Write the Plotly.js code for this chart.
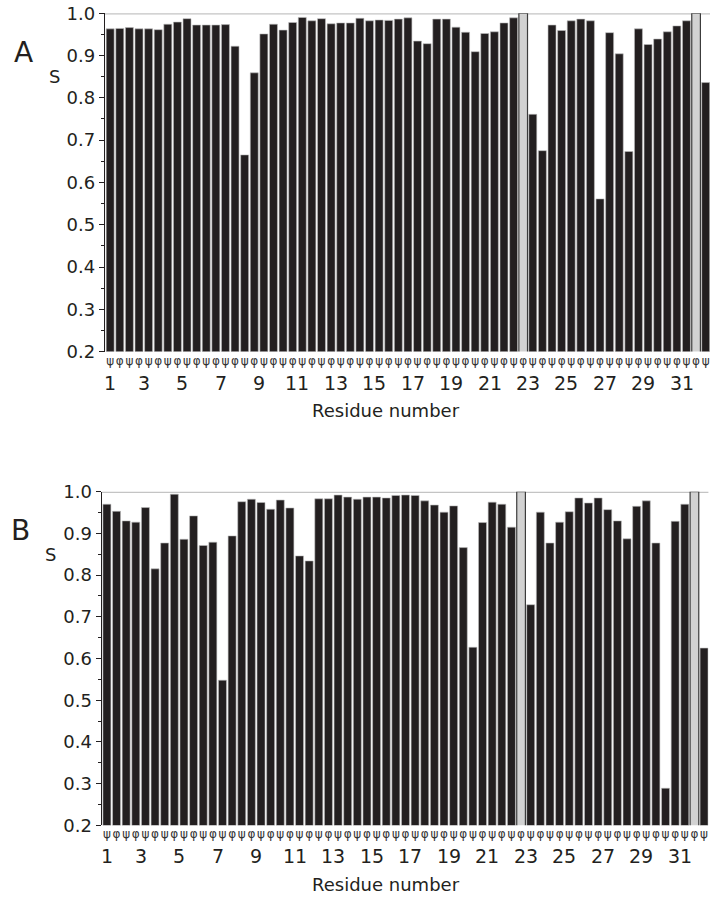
<!DOCTYPE html>
<html>
<head>
<meta charset="utf-8">
<script src="https://cdn.plot.ly/plotly-3.0.1.min.js"></script>
<style>html,body{margin:0;padding:0;background:#fff;}#chart{width:710px;height:897px;}</style>
</head>
<body>
<div id="chart"></div>
<script>
// ---- data ----
const residues = [1,2,3,4,5,6,7,8,9,10,11,12,13,14,15,16,17,18,19,20,21,22,23,24,25,26,27,28,29,30,31,32];
const anglesFirst = ['ψ'];           // residue 1 has only psi
const anglesOther = ['φ','ψ'];       // other residues: phi, psi
const prolineResidues = [23, 32];    // phi not defined -> grey bar
const residueTickLabels = [1,3,5,7,9,11,13,15,17,19,21,23,25,27,29,31];
const yTickVals = [0.2,0.3,0.4,0.5,0.6,0.7,0.8,0.9,1.0];

// S order parameters, one per bar (psi1, phi2, psi2, ... phi32, psi32); null = proline phi
const sA = [0.963,0.964,0.966,0.963,0.963,0.961,0.974,0.979,0.987,0.972,
            0.972,0.972,0.973,0.922,0.665,0.859,0.951,0.974,0.960,0.978,
            0.990,0.982,0.987,0.975,0.977,0.977,0.988,0.982,0.984,0.983,
            0.986,0.989,0.934,0.928,0.986,0.986,0.967,0.955,0.909,0.952,
            0.956,0.977,0.989,null,0.761,0.675,0.972,0.959,0.982,0.986,
            0.982,0.561,0.954,0.904,0.673,0.963,0.926,0.939,0.956,0.970,
            0.982,null,0.836];
const sB = [0.970,0.953,0.930,0.927,0.962,0.815,0.877,0.994,0.886,0.942,
            0.871,0.879,0.548,0.894,0.976,0.982,0.974,0.958,0.980,0.961,
            0.846,0.834,0.983,0.983,0.992,0.987,0.982,0.987,0.987,0.985,
            0.991,0.992,0.991,0.978,0.968,0.951,0.966,0.866,0.627,0.926,
            0.975,0.970,0.915,null,0.729,0.951,0.877,0.927,0.952,0.985,
            0.973,0.985,0.957,0.930,0.887,0.965,0.978,0.877,0.289,0.929,
            0.970,null,0.625];
const prolineMarkerValue = 1.0;

// ---- build bar list ----
const barLabels = [], barRes = [];
residues.forEach((r, i) => {
  (i === 0 ? anglesFirst : anglesOther).forEach(a => { barLabels.push(a); barRes.push(r); });
});
const barIdx = barLabels.map((_, i) => i);
const proIdx = prolineResidues.map(r => barRes.findIndex((rr, i) => rr === r && barLabels[i] === 'φ'));
const resPos = r => { const ids = barIdx.filter(i => barRes[i] === r); return ids.reduce((a,b)=>a+b,0)/ids.length; };

const ink = '#231f20';
const FONT = 'DejaVu Sans, Arial, sans-serif';
const H = 897;
const panels = [
  {name:'A', s:sA, xa:'x',  ya:'y',  xd:[105/710, 1.0],          yTop:13.2,  yBot:351.6},
  {name:'B', s:sB, xa:'x2', ya:'y2', xd:[101.7/710, 708.4/710],   yTop:491.7, yBot:825.3}
];

const traces = [], annotations = [], shapes = [];
const layout = {
  width:710, height:897, margin:{l:0,r:0,t:0,b:0},
  paper_bgcolor:'#fff', plot_bgcolor:'#fff', showlegend:false,
  bargap:0.17, barmode:'overlay',
  font:{family:FONT, color:ink}
};

panels.forEach((p, k) => {
  const xKey = k === 0 ? 'xaxis' : 'xaxis2';
  const yKey = k === 0 ? 'yaxis' : 'yaxis2';
  const yd = [1 - p.yBot/H, 1 - p.yTop/H];
  traces.push({type:'bar', x:barIdx, y:p.s, xaxis:p.xa, yaxis:p.ya,
    marker:{color:ink, line:{color:'#bdbdbd', width:0.6}}, width:0.83});
  traces.push({type:'bar', x:proIdx, y:proIdx.map(()=>prolineMarkerValue), xaxis:p.xa, yaxis:p.ya,
    marker:{color:'#d2d2d2', line:{color:'#3c3c3c', width:1.2}}, width:0.9});
  layout[xKey] = {domain:p.xd, anchor:p.ya, range:[-0.54, 62.45], showgrid:false, zeroline:false,
    showline:false, ticks:'', tickmode:'array', tickvals:barIdx, ticktext:barLabels,
    tickangle:0, tickfont:{size:12, family:'DejaVu Sans', color:'#333'}, fixedrange:true};
  layout[yKey] = {domain:yd, anchor:p.xa, range:[0.2, 1.0], showgrid:false, zeroline:false,
    showline:true, linecolor:ink, linewidth:1.2, ticks:'outside', ticklen:5, tickcolor:ink,
    tickmode:'array', tickvals:yTickVals, ticktext:yTickVals.map(v=>v.toFixed(1)),
    tickfont:{size:18, color:ink, family:FONT},
    minor:{dtick:0.05, tick0:0.2, ticks:'outside', ticklen:3, tickcolor:ink}};
  // top reference line at S = 1
  shapes.push({type:'line', xref:p.xa+' domain', x0:0, x1:1, yref:p.ya, y0:1.0, y1:1.0,
    line:{color:'#c4c4c4', width:2.5}, layer:'below'});
  // residue number labels
  residueTickLabels.forEach(r => annotations.push({xref:p.xa, x:resPos(r), yref:'paper',
    y:1 - (p.yBot + 31)/H, text:String(r), showarrow:false, xanchor:'center', yanchor:'middle',
    font:{size:19, color:ink, family:FONT}}));
  annotations.push({xref:'paper', x:386/710, yref:'paper', y:1 - (p.yBot + 59)/H,
    text:'Residue number', showarrow:false, xanchor:'center', yanchor:'middle', borderpad:0,
    font:{size:18, color:ink, family:FONT}});
  annotations.push({xref:'paper', x:(k===0?55:50)/710, yref:'paper', y:1 - (p.yTop + 63)/H,
    text:'S', showarrow:false, xanchor:'center', yanchor:'middle', font:{size:18, color:ink, family:FONT}});
  annotations.push({xref:'paper', x:(k===0?23:20)/710, yref:'paper', y:1 - (p.yTop + 39)/H,
    text:p.name, showarrow:false, xanchor:'center', yanchor:'middle', font:{size:28, color:ink, family:FONT}});
});
layout.annotations = annotations;
layout.shapes = shapes;

Plotly.newPlot('chart', traces, layout, {staticPlot:true, displayModeBar:false});
</script>
</body>
</html>
